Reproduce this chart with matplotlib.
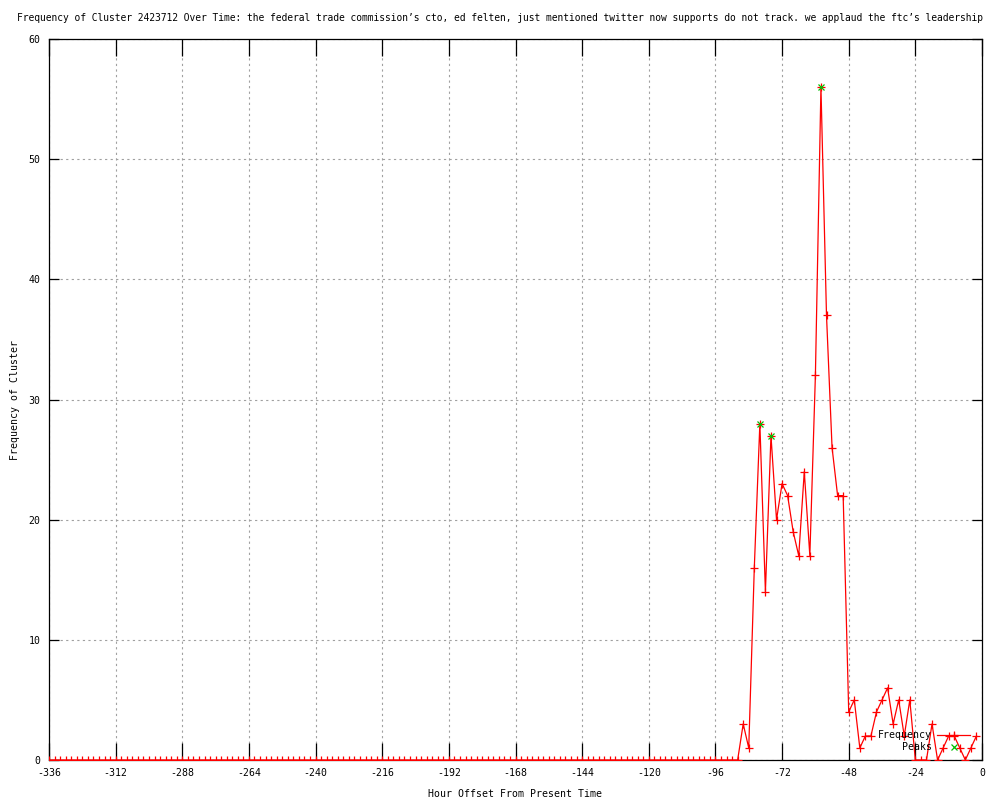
import numpy as np
import matplotlib
matplotlib.use("Agg")
import matplotlib.pyplot as plt
from matplotlib.ticker import MultipleLocator

plt.rcParams['font.family'] = ['DejaVu Sans Mono', 'DejaVu Sans']
plt.rcParams['axes.unicode_minus'] = False

# ---- data ----
hours = list(range(-336, 0, 2))
nonzero = {
    -86: 3, -84: 1, -82: 16, -80: 28, -78: 14, -76: 27, -74: 20, -72: 23,
    -70: 22, -68: 19, -66: 17, -64: 24, -62: 17, -60: 32, -58: 56, -56: 37,
    -54: 26, -52: 22, -50: 22, -48: 4, -46: 5, -44: 1, -42: 2, -40: 2,
    -38: 4, -36: 5, -34: 6, -32: 3, -30: 5, -28: 2, -26: 5, -24: 0,
    -22: 0, -20: 0, -18: 3, -16: 0, -14: 1, -12: 2, -10: 2, -8: 1,
    -6: 0, -4: 1, -2: 2,
}
frequency = [nonzero.get(h, 0) for h in hours]
peak_hours = [-80, -76, -58]
peak_values = [28, 27, 56]

title = ("Frequency of Cluster 2423712 Over Time: the federal trade commission\u2019s cto, "
         "ed felten, just mentioned twitter now supports do not track. "
         "we applaud the ftc\u2019s leadership")

# ---- figure ----
fig = plt.figure(figsize=(10, 8), dpi=100)
ax = fig.add_axes([0.049, 0.05, 0.933, 0.90125])

ax.plot(hours, frequency, color='#ff0000', lw=0.9, marker='+', ms=6, mew=0.9,
        label='Frequency', zorder=3)
ax.plot(peak_hours, peak_values, linestyle='none', color='#00c000', marker='x',
        ms=5, mew=0.9, label='Peaks', zorder=4)

ax.set_xlim(-336, 0)
ax.set_ylim(0, 60)
ax.xaxis.set_major_locator(MultipleLocator(24))
ax.yaxis.set_major_locator(MultipleLocator(10))
ax.grid(True, color='#a0a0a0', linestyle=(0, (2, 3)), linewidth=0.8)
ax.set_axisbelow(True)

for s in ax.spines.values():
    s.set_linewidth(0.9)
    s.set_color('black')

ax.tick_params(axis='x', direction='in', length=12, width=0.9, top=True,
               labelsize=7.1, pad=6)
ax.tick_params(axis='y', direction='in', length=7, width=0.9, right=True,
               labelsize=7.1, pad=6)

ax.set_xlabel('Hour Offset From Present Time', fontsize=7.1, labelpad=8)
ax.set_ylabel('Frequency of Cluster', fontsize=7.1, labelpad=6)

fig.text(0.5, 0.977, title, fontsize=6.95, ha='center', va='center')

leg = ax.legend(loc='upper right', bbox_to_anchor=(0.970, 0.0875),
                bbox_transform=fig.transFigure, frameon=False,
                markerfirst=False, fontsize=7.1, handlelength=3.3,
                handletextpad=0.6, borderpad=0, borderaxespad=0,
                labelspacing=0.25)

fig.savefig('out.png', dpi=100)
